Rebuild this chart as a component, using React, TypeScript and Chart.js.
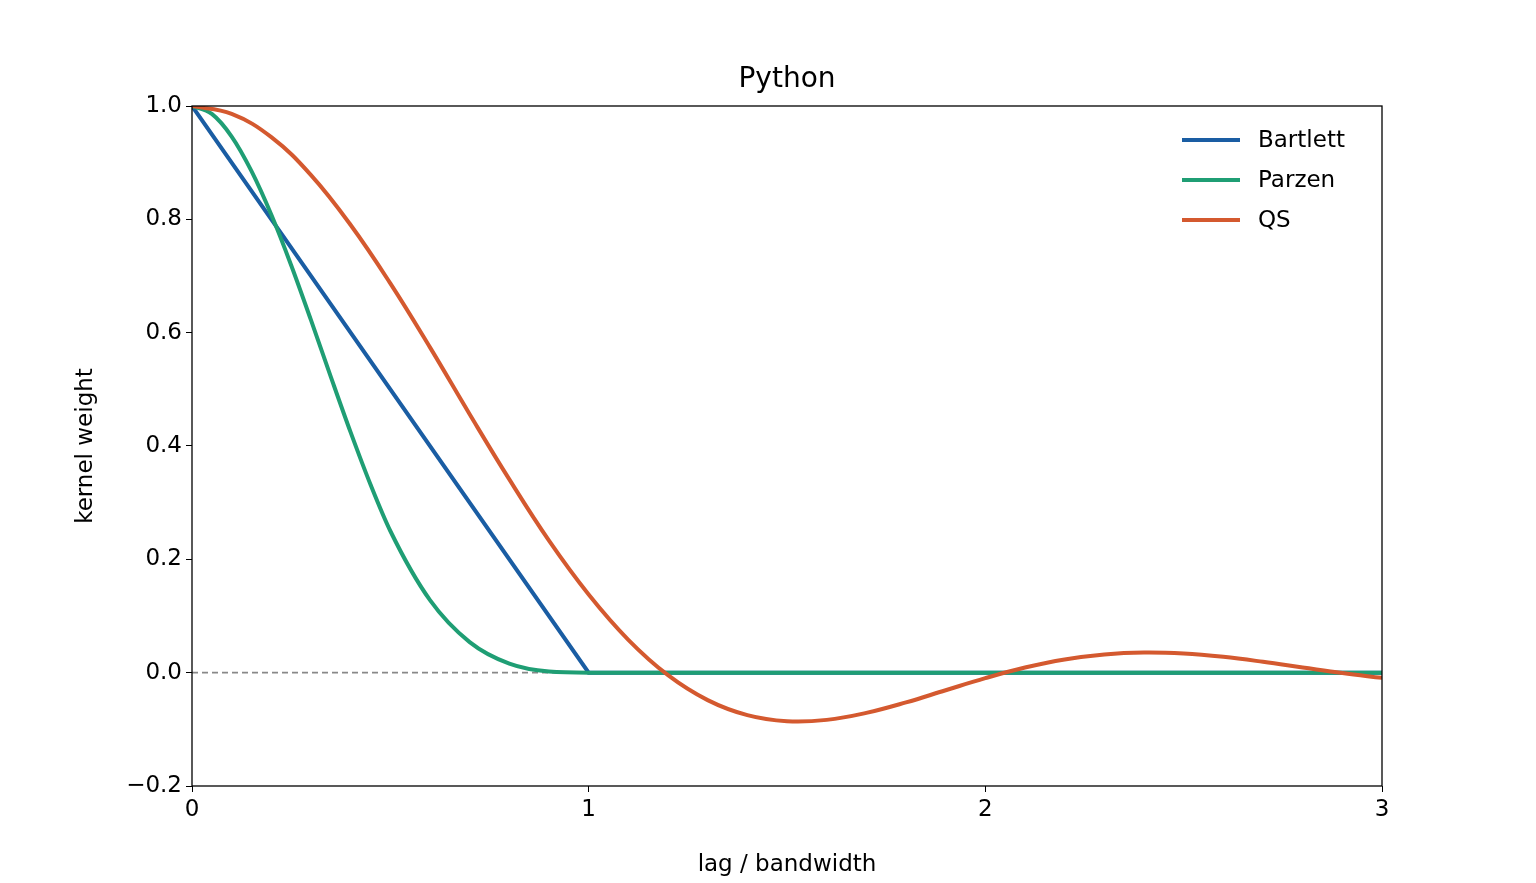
import React, { useEffect, useRef } from "react";
import { Chart, registerables } from "chart.js";
Chart.register(...registerables);

const lags = [0,0.1,0.2,0.3,0.4,0.5,0.6,0.7,0.8,0.9,1.0,1.1,1.2,1.3,1.4,1.5,1.6,1.7,1.8,1.9,2.0,2.1,2.2,2.3,2.4,2.5,2.6,2.7,2.8,2.9,3.0];
const bartlettX = [0, 1, 1.1, 3];
const bartlettY = [1, 0, 0, 0];
const parzenX = [0,0.05,0.1,0.15,0.2,0.25,0.3,0.35,0.4,0.45,0.5,0.6,0.7,0.8,0.9,1.0,1.5,2.0,2.5,3.0];
const parzen = [1,0.986,0.946,0.885,0.808,0.719,0.622,0.522,0.424,0.332,0.25,0.128,0.054,0.016,0.002,0,0,0,0,0];
const qs = [1,0.986,0.945,0.878,0.790,0.687,0.574,0.456,0.341,0.233,0.138,0.058,-0.0044,-0.0484,-0.0749,-0.0856,-0.0833,-0.071,-0.0525,-0.031,-0.0097,0.009,0.0233,0.0322,0.0356,0.0338,0.0279,0.0192,0.0092,-0.0007,-0.0092];
const yTicks = [-0.2,0,0.2,0.4,0.6,0.8,1.0];
const xTicks = [0,1,2,3];
const names = ["Bartlett","Parzen","QS"];
const colors = ["#1a5da3","#1f9e74","#d4592f"];
const FONT = "'DejaVu Sans', sans-serif";
const FS = 23;

export default function App() {
  const ref = useRef<HTMLCanvasElement>(null);
  useEffect(() => {
    document.body.style.margin = "0";
    const overlay = {
      id: "overlay",
      afterDraw(c: any) {
        const { ctx, chartArea: a } = c;
        ctx.save();
        ctx.strokeStyle = "#000"; ctx.lineWidth = 1.3;
        ctx.strokeRect(a.left, a.top, a.right - a.left, a.bottom - a.top);
        ctx.fillStyle = "#000"; ctx.textAlign = "center"; ctx.textBaseline = "middle";
        ctx.font = `28px ${FONT}`;
        ctx.fillText("Python", (a.left + a.right) / 2, 80);
        ctx.font = `${FS}px ${FONT}`; ctx.textAlign = "left";
        names.forEach((n, i) => {
          const y = 140 + i * 40;
          ctx.strokeStyle = colors[i]; ctx.lineWidth = 4;
          ctx.beginPath(); ctx.moveTo(1182, y); ctx.lineTo(1240, y); ctx.stroke();
          ctx.fillText(n, 1258, y + 1);
        });
        ctx.restore();
      },
    };
    const chart = new Chart(ref.current!, {
      type: "line",
      data: {
        datasets: [
          { data: [{x:0,y:0},{x:3,y:0}], borderColor: "#888", borderWidth: 1.8, borderDash: [6,4], pointRadius: 0, order: 5 },
          { data: bartlettX.map((x,i)=>({x,y:bartlettY[i]})), borderColor: colors[0], borderWidth: 4, pointRadius: 0, tension: 0, order: 3 },
          { data: parzenX.map((x,i)=>({x,y:parzen[i]})), borderColor: colors[1], borderWidth: 4, pointRadius: 0, cubicInterpolationMode: "monotone", order: 2 },
          { data: lags.map((x,i)=>({x,y:qs[i]})), borderColor: colors[2], borderWidth: 4, pointRadius: 0, tension: 0.4, order: 1 },
        ],
      },
      options: {
        animation: false, responsive: false, maintainAspectRatio: false,
        layout: { padding: { left: 68, right: 154, top: 106, bottom: 0 } },
        plugins: { legend: { display: false }, tooltip: { enabled: false }, title: { display: false } },
        scales: {
          x: {
            type: "linear", min: 0, max: 3,
            afterBuildTicks: (s: any) => { s.ticks = xTicks.map(v => ({ value: v })); },
            afterFit: (s: any) => { s.height = 97; },
            grid: { drawOnChartArea: false, drawTicks: true, tickLength: 6, color: "#000" },
            border: { display: false },
            ticks: { color: "#000", font: { family: FONT, size: FS }, padding: 4, callback: (v: any) => String(v) },
            title: { display: true, text: "lag / bandwidth", color: "#000", font: { family: FONT, size: FS }, padding: { top: 2 } },
          },
          y: {
            type: "linear", min: -0.2, max: 1.0,
            afterBuildTicks: (s: any) => { s.ticks = yTicks.map(v => ({ value: v })); },
            afterFit: (s: any) => { s.width = 124; },
            grid: { drawOnChartArea: false, drawTicks: true, tickLength: 6, color: "#000" },
            border: { display: false },
            ticks: { color: "#000", font: { family: FONT, size: FS }, padding: 4, callback: (v: any) => Number(v).toFixed(1).replace("-", "\u2212") },
            title: { display: true, text: "kernel weight", color: "#000", font: { family: FONT, size: FS }, padding: { bottom: 8 } },
          },
        },
      },
      plugins: [overlay],
    } as any);
    return () => chart.destroy();
  }, []);
  return <div style={{ width: 1536, height: 883 }}><canvas ref={ref} width={1536} height={883} /></div>;
}
